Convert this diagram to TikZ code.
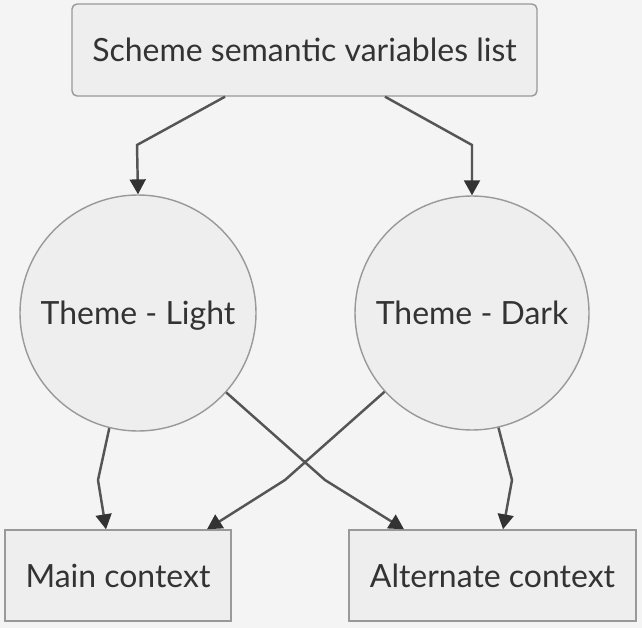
\documentclass[tikz,border=0pt]{standalone}
\usepackage{fontspec}
\setmainfont{Lato}
\usetikzlibrary{arrows.meta}
\definecolor{bgcol}{HTML}{F4F4F4}
\definecolor{nodefill}{HTML}{EEEEEE}
\definecolor{nodeline}{HTML}{999999}
\definecolor{edgecol}{HTML}{555555}
\definecolor{tipcol}{HTML}{333333}
\definecolor{txtcol}{HTML}{333333}
\tikzset{
  box/.style={draw=nodeline, fill=nodefill, line width=0.8pt, text=txtcol,
    font=\fontsize{18.2}{22}\selectfont, inner sep=0pt,
    text height=17.6pt, text depth=4pt},
  theme/.style={box, circle},
  link/.style={draw=edgecol, line width=1.4pt,
    -{Triangle[length=8.5pt,width=9pt,color=tipcol]}},
}
\begin{document}
\begin{tikzpicture}[x=0.02cm, y=-0.02cm]
  \fill[bgcol] (0,0) rectangle (642,628);
  \node[box, rounded corners=0.1cm, minimum width=9.3cm, minimum height=1.84cm] (list) at (304.5,50) {Scheme semantic variables list};
  \node[theme, minimum size=4.72cm] (light) at (138,313) {Theme - Light};
  \node[theme, minimum size=4.68cm] (dark) at (472,313) {Theme - Dark};
  \node[box, minimum width=4.52cm, minimum height=1.82cm] (main) at (118,575.5) {Main context};
  \node[box, minimum width=5.74cm, minimum height=1.82cm] (alt) at (492.5,575.5) {Alternate context};
  % bends
  \coordinate (topL) at (137,145);
  \coordinate (topR) at (472,145);
  \coordinate (lowA) at (98,480);
  \coordinate (lowB) at (285,480);
  \coordinate (lowC) at (325,480);
  \coordinate (lowD) at (512,480);
  % list to themes
  \draw[link] ([xshift=-1.59cm]list.south) -- (topL) -- (light.north);
  \draw[link] ([xshift=1.61cm]list.south) -- (topR) -- (dark.north);
  % themes to contexts
  \draw[link] (light.-104) -- (lowA) -- ([xshift=-0.24cm]main.north);
  \draw[link] (light.-42) -- (lowC) -- ([xshift=-1.77cm]alt.north);
  \draw[link] (dark.-138) -- (lowB) -- ([xshift=1.78cm]main.north);
  \draw[link] (dark.-77) -- (lowD) -- ([xshift=0.21cm]alt.north);
\end{tikzpicture}
\end{document}
